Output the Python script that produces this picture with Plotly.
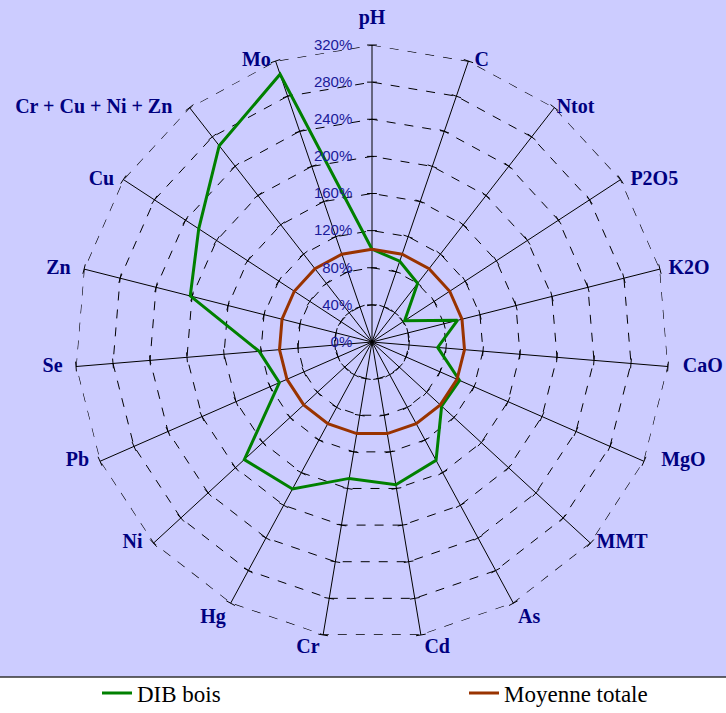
import plotly.graph_objects as go

categories = ["pH", "C", "Ntot", "P2O5", "K2O", "CaO", "MgO", "MMT", "As", "Cd",
              "Cr", "Hg", "Ni", "Pb", "Se", "Zn", "Cu", "Cr + Cu + Ni + Zn", "Mo"]
dib_bois = [100, 92, 80, 42, 95, 71, 103, 102, 145, 156,
            149, 180, 187, 109, 122, 202, 223, 268, 305]
moyenne_totale = [100] * len(categories)
radial_ticks = [0, 40, 80, 120, 160, 200, 240, 280, 320]
tick_labels = [f"{t}%" for t in radial_ticks]

# styling: spacing of each category label from the outer polygon (px)
label_gap = [24, 8, 2, 14, 12, 22, 26, 8, 6, 4, 4, 6, 16, 16, 20, 20, 13, 26, 6]

W, H = 726, 713
cx, cy, R = 372, 342, 297
SERIF = "Liberation Serif, Times New Roman, serif"

fig = go.Figure()

n = len(categories)
r_max = radial_ticks[-1]
angles = [i * 360.0 / n for i in range(n)]

# outer dashed polygon (gridline at the range maximum)
fig.add_trace(go.Scatterpolar(
    r=[r_max] * (n + 1), theta=categories + [categories[0]], mode="lines",
    line=dict(color="black", width=1.2, dash="dash"),
    showlegend=False, hoverinfo="skip"))

# small cross ticks on each spoke
tick_r, tick_theta, tick_ang = [], [], []
for a, c in zip(angles, categories):
    for t in radial_ticks[1:]:
        tick_r.append(t)
        tick_theta.append(c)
        tick_ang.append(a)
fig.add_trace(go.Scatterpolar(
    r=tick_r, theta=tick_theta, mode="markers",
    marker=dict(symbol="line-ew", size=7, angle=tick_ang,
                line=dict(color="black", width=1)),
    showlegend=False, hoverinfo="skip"))

fig.add_trace(go.Scatterpolar(
    r=dib_bois + [dib_bois[0]], theta=categories + [categories[0]],
    mode="lines", name="DIB bois",
    line=dict(color="#008000", width=3), legend="legend"))
fig.add_trace(go.Scatterpolar(
    r=moyenne_totale + [moyenne_totale[0]], theta=categories + [categories[0]],
    mode="lines", name="Moyenne totale",
    line=dict(color="#993300", width=3), legend="legend2"))


# category labels, placed outside the outer polygon
def label_pos(a):
    if a < 5 or a > 355:
        return "top center"
    if a < 140:
        return "middle right"
    if a < 180:
        return "bottom right"
    if a < 220:
        return "bottom left"
    return "middle left"


fig.add_trace(go.Scatterpolar(
    r=[r_max] * n, theta=categories, mode="markers+text", text=categories,
    textposition=[label_pos(a) for a in angles],
    marker=dict(size=label_gap, color="rgba(0,0,0,0)",
                line=dict(width=0, color="rgba(0,0,0,0)")),
    textfont=dict(family=SERIF, size=20, color="#000080", weight="bold"),
    cliponaxis=False, showlegend=False, hoverinfo="skip"))

legend_font = dict(family=SERIF, size=23, color="black")
fig.update_layout(
    width=W, height=H,
    font=dict(family=SERIF),
    margin=dict(l=0, r=0, t=0, b=0, autoexpand=False),
    paper_bgcolor="white",
    shapes=[
        dict(type="rect", xref="paper", yref="paper", x0=0, x1=1,
             y0=1 - 677 / H, y1=1, fillcolor="#CCCCFF",
             line=dict(width=0), layer="below"),
        dict(type="line", xref="paper", yref="paper", x0=0, x1=1,
             y0=1 - 677 / H, y1=1 - 677 / H,
             line=dict(color="#333333", width=1.5)),
    ],
    polar=dict(
        domain=dict(x=[(cx - R) / W, (cx + R) / W],
                    y=[1 - (cy + R) / H, 1 - (cy - R) / H]),
        bgcolor="#CCCCFF",
        gridshape="linear",
        radialaxis=dict(range=[0, r_max], tickvals=radial_ticks, ticktext=tick_labels,
                        angle=90, tickangle=90, side="counterclockwise",
                        showline=False, ticks="outside", ticklen=14,
                        tickcolor="rgba(0,0,0,0)",
                        gridcolor="black", griddash="dash", gridwidth=1,
                        tickfont=dict(family="Liberation Sans", size=15, color="#1A1A99")),
        angularaxis=dict(rotation=90, direction="clockwise",
                         gridcolor="black", gridwidth=1,
                         showline=False, ticks="", showticklabels=False),
    ),
    legend=dict(orientation="h", x=97 / W, y=1 - 693 / H, xanchor="left", yanchor="middle",
                font=legend_font, bgcolor="rgba(0,0,0,0)"),
    legend2=dict(orientation="h", x=464 / W, y=1 - 693 / H, xanchor="left", yanchor="middle",
                 font=legend_font, bgcolor="rgba(0,0,0,0)"),
)

fig.write_html("out.html", config={"displayModeBar": False},
               post_script="document.body.style.margin='0';document.body.style.padding='0';")
